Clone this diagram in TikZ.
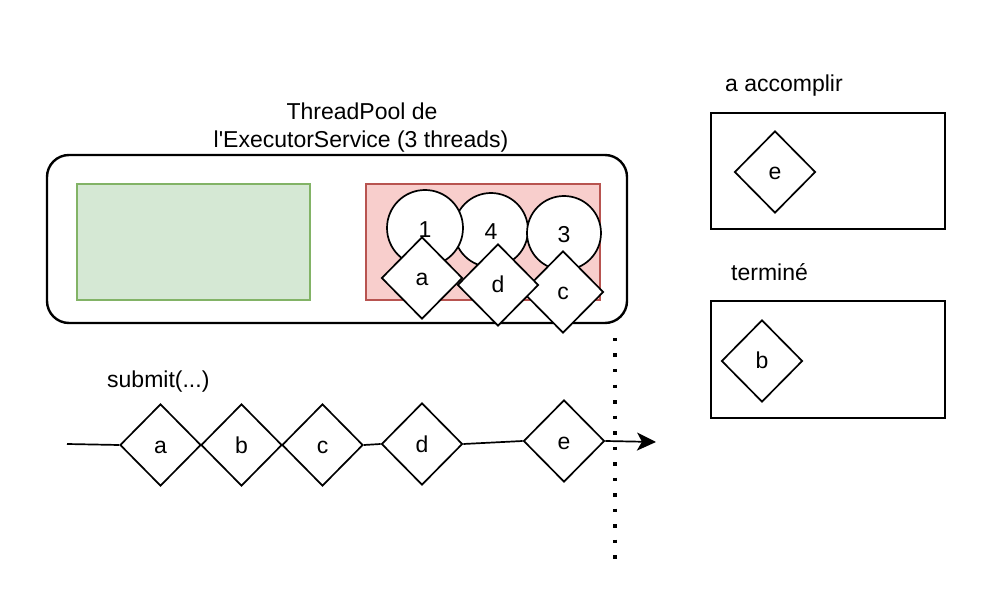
\documentclass[tikz,border=0pt]{standalone}
\usepackage{fontspec}
\setmainfont{Liberation Sans}
\usetikzlibrary{shapes.geometric,arrows.meta}
\definecolor{gfill}{HTML}{D5E8D4}
\definecolor{gdraw}{HTML}{82B366}
\definecolor{rfill}{HTML}{F8CECC}
\definecolor{rdraw}{HTML}{B85450}
\begin{document}
\begin{tikzpicture}[x=1pt,y=-1pt,
  every node/.style={font=\fontsize{23}{23}\selectfont},
  task/.style={diamond,draw=black,fill=white,line width=1.7pt,minimum width=81pt,minimum height=82pt,inner sep=0pt,aspect=1,text height=20pt,text depth=4pt},
  thr/.style={circle,draw=black,fill=white,line width=1.7pt,inner sep=0pt,text height=22pt,text depth=2pt},
  box/.style={rectangle,draw=black,line width=2pt,inner sep=0pt,minimum width=234pt,minimum height=116pt},
  lbl/.style={inner sep=0pt},
  ln/.style={draw=black,line width=1.7pt}]
\useasboundingbox (0,0) rectangle (1001,593);
% thread pool
\node[rectangle,draw=black,line width=2.4pt,rounded corners=22pt,minimum width=580pt,minimum height=168pt] (pool) at (337,239) {};
\node[rectangle,draw=gdraw,fill=gfill,line width=1.6pt,minimum width=233pt,minimum height=116pt] (green) at (193.5,242) {};
\node[rectangle,draw=rdraw,fill=rfill,line width=1.6pt,minimum width=234pt,minimum height=116pt] (red) at (483,242) {};
\node[thr,minimum size=74pt] (t4) at (491,230) {4};
\node[thr,minimum size=76pt] (t1) at (425,228) {1};
\node[thr,minimum size=74pt] (t3) at (564,233) {3};
\node[task] (pa) at (422,278) {a};
\node[task] (pc) at (563,292) {c};
\node[task] (pd) at (498,285) {d};
% titles
\node[lbl,anchor=base] (title1) at (362,120) {ThreadPool de};
\node[lbl,anchor=base] (title2) at (361,147.5) {l\textquotesingle ExecutorService (3 threads)};
\node[lbl,anchor=base west] (submit) at (107,388) {submit(...)};
\node[lbl,anchor=base west] (todo) at (725,92) {a accomplir};
\node[lbl,anchor=base west] (done) at (731,281) {terminé};
% right boxes
\node[box] (todobox) at (828,171) {};
\node[box,minimum height=117pt] (donebox) at (828,359.5) {};
\node[task] (re) at (775,172) {e};
\node[task] (rb) at (762,361) {b};
% submit queue
\coordinate (start) at (67,444);
\coordinate (end) at (656,442);
\node[task] (qa) at (160.5,445) {a};
\node[task] (qb) at (241.5,445) {b};
\node[task] (qc) at (322.5,445) {c};
\node[task] (qd) at (422,444) {d};
\node[task] (qe) at (564,441) {e};
\draw[ln] (start) -- (qa.west);
\draw[ln] (qc.east) -- (qd.west);
\draw[ln] (qd.east) -- (qe.west);
\draw[ln,-{Stealth[length=19pt,width=18pt,inset=5pt]}] (qe.east) -- (end);
% dotted separator
\coordinate (dtop) at (615,338);
\coordinate (dbot) at (615,562);
\draw[line width=3.5pt,dash pattern=on 3.5pt off 12pt] (dtop) -- (dbot);
\end{tikzpicture}
\end{document}
